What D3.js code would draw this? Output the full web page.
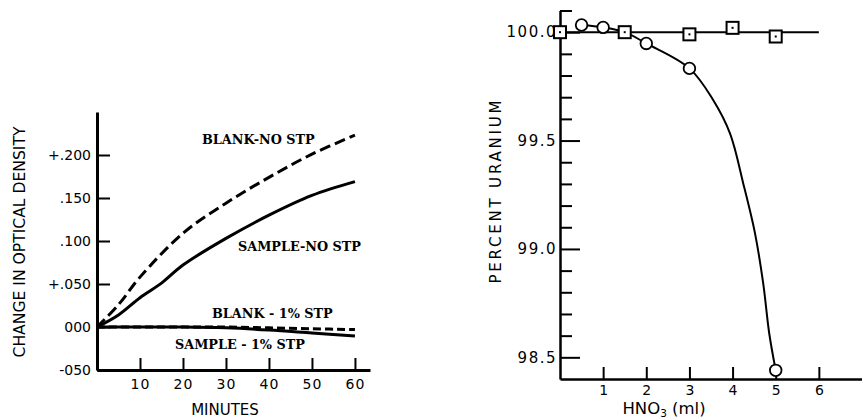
<!DOCTYPE html>
<html>
<head>
<meta charset="utf-8">
<script src="https://cdn.jsdelivr.net/npm/d3@7"></script>
<style>
  body { margin: 0; background: #fff; }
  svg { display: block; }
  .sans { font-family: "DejaVu Sans", "Liberation Sans", sans-serif; }
  .serif { font-family: "DejaVu Serif", serif; font-weight: bold; }
</style>
</head>
<body>
<svg id="chart" width="862" height="419"></svg>
<script>
// ---- 左图：光密度变化 ----
const minuteTicks = [10, 20, 30, 40, 50, 60]
const densityTicks = [-0.05, 0, 0.05, 0.10, 0.15, 0.20]
const densityLabels = ["-050", "000", "+.050", ".100", ".150", "+.200"]

const blankNoStp = [[0, 0], [5, 0.026], [10, 0.058], [20, 0.109], [30, 0.144], [40, 0.174], [50, 0.201], [60, 0.223]]
const sampleNoStp = [[0, 0], [5, 0.014], [10, 0.034], [15, 0.051], [20, 0.072], [30, 0.103], [40, 0.130], [50, 0.153], [60, 0.169]]
const blank1Stp = [[0, 0], [10, 0], [20, 0], [30, 0], [40, -0.001], [50, -0.002], [60, -0.003]]
const sample1Stp = [[0, 0], [10, 0], [20, 0], [30, -0.001], [40, -0.0035], [50, -0.007], [60, -0.0105]]

// ---- 右图：铀百分比 ----
const hno3Ticks = [1, 2, 3, 4, 5, 6]
const uraniumMajor = [98.5, 99.0, 99.5, 100.0]
const uraniumMinor = [98.6, 98.7, 98.8, 98.9, 99.1, 99.2, 99.3, 99.4, 99.6, 99.7, 99.8, 99.9, 100.1]

const squarePts = [[0, 100.0], [1.5, 100.0], [3, 99.99], [4, 100.02], [5, 99.98]]
const squareFit = [[0, 100.0], [6, 100.0]]
const circlePts = [[0.5, 100.033], [1, 100.022], [2, 99.948], [3, 99.833], [5, 98.44]]
const circleFit = [[0.5, 100.033], [1, 100.022], [1.5, 100.0], [2, 99.948], [3, 99.833], [3.55, 99.687],
                   [3.94, 99.533], [4.25, 99.30], [4.52, 99.072], [4.71, 98.841], [4.85, 98.61], [5, 98.44]]

var svg = d3.select("#chart")

// ===== 左图 =====
var xL = d3.scaleLinear().domain([0, 63.5]).range([97, 370])
var yL = d3.scaleLinear().domain([-0.05, 0.25]).range([370, 112])
var gL = svg.append("g")

gL.append("g")
  .attr("transform", "translate(0," + yL(-0.05) + ")")
  .call(d3.axisBottom(xL).tickValues(minuteTicks).tickSize(-12).tickSizeOuter(0).tickPadding(9).tickFormat(d3.format("d")))
  .call(g => g.select(".domain").attr("stroke-width", 3))
  .call(g => g.selectAll(".tick line").attr("stroke-width", 2))
  .call(g => g.selectAll("text").attr("class", "sans").attr("font-size", 14).attr("letter-spacing", 1).attr("fill", "#000"))

gL.append("g")
  .attr("transform", "translate(" + xL(0) + ",0)")
  .call(d3.axisLeft(yL).tickValues(densityTicks).tickSize(-13).tickSizeOuter(0).tickPadding(6)
          .tickFormat((d, i) => densityLabels[i]))
  .call(g => g.select(".domain").attr("stroke-width", 3))
  .call(g => g.selectAll(".tick line").attr("stroke-width", 2))
  .call(g => g.selectAll("text").attr("class", "sans").attr("font-size", 14).attr("fill", "#000"))

var lineL = d3.line().x(d => xL(d[0])).y(d => yL(d[1])).curve(d3.curveCatmullRom.alpha(0.5))

var seriesL = [
  {data: blankNoStp, dash: "11,5"},
  {data: sampleNoStp, dash: null},
  {data: blank1Stp, dash: "8,4"},
  {data: sample1Stp, dash: null}
]
seriesL.forEach(s => {
  gL.append("path")
    .attr("d", lineL(s.data))
    .attr("fill", "none")
    .attr("stroke", "#000")
    .attr("stroke-width", 3)
    .attr("stroke-dasharray", s.dash)
})

// 曲线标注
var notes = [
  {t: "BLANK-NO STP", x: 202, y: 139},
  {t: "SAMPLE-NO STP", x: 238, y: 246},
  {t: "BLANK - 1% STP", x: 212, y: 313},
  {t: "SAMPLE - 1% STP", x: 175, y: 344}
]
notes.forEach(n => {
  gL.append("text")
    .attr("class", "serif")
    .attr("x", n.x)
    .attr("y", n.y)
    .attr("dy", "0.36em")
    .attr("font-size", 12.8)
    .text(n.t)
})

gL.append("text")
  .attr("class", "sans")
  .attr("transform", "translate(25,242) rotate(-90)")
  .attr("text-anchor", "middle")
  .attr("font-size", 15)
  .attr("textLength", 231)
  .attr("lengthAdjust", "spacingAndGlyphs")
  .text("CHANGE IN OPTICAL DENSITY")

gL.append("text")
  .attr("class", "sans")
  .attr("x", 225)
  .attr("y", 410)
  .attr("dy", "0.36em")
  .attr("text-anchor", "middle")
  .attr("font-size", 15)
  .text("MINUTES")

// ===== 右图 =====
var xR = d3.scaleLinear().domain([0, 7]).range([560, 862])
var yR = d3.scaleLinear().domain([98.4, 100.1]).range([379, 10.5])
var gR = svg.append("g")

gR.append("g")
  .attr("transform", "translate(0," + yR(98.4) + ")")
  .call(d3.axisBottom(xR).tickValues(hno3Ticks).tickSize(-12).tickSizeOuter(0).tickPadding(6).tickFormat(d3.format("d")))
  .call(g => g.select(".domain").attr("stroke-width", 2.5))
  .call(g => g.selectAll(".tick line").attr("stroke-width", 2))
  .call(g => g.selectAll("text").attr("class", "sans").attr("font-size", 14).attr("fill", "#000"))

gR.append("g")
  .attr("transform", "translate(" + xR(0) + ",0)")
  .call(d3.axisLeft(yR).tickValues(uraniumMinor).tickSize(-12).tickSizeOuter(0).tickFormat(""))
  .call(g => g.select(".domain").attr("stroke-width", 2.5))
  .call(g => g.selectAll(".tick line").attr("stroke-width", 2))

gR.append("g")
  .attr("transform", "translate(" + xR(0) + ",0)")
  .call(d3.axisLeft(yR).tickValues(uraniumMajor).tickSize(-20).tickSizeOuter(0).tickPadding(3).tickFormat(d3.format(".1f")))
  .call(g => g.select(".domain").remove())
  .call(g => g.selectAll(".tick line").attr("stroke-width", 2))
  .call(g => g.selectAll("text").attr("class", "sans").attr("font-size", 15).attr("letter-spacing", 1.5).attr("fill", "#000"))

var lineR = d3.line().x(d => xR(d[0])).y(d => yR(d[1]))

gR.append("path")
  .attr("d", lineR(squareFit))
  .attr("fill", "none")
  .attr("stroke", "#000")
  .attr("stroke-width", 2)

gR.append("path")
  .attr("d", lineR.curve(d3.curveCatmullRom.alpha(0.5))(circleFit))
  .attr("fill", "none")
  .attr("stroke", "#000")
  .attr("stroke-width", 2)

gR.selectAll(".circ")
  .data(circlePts)
  .join("circle")
  .attr("class", "circ")
  .attr("cx", d => xR(d[0]))
  .attr("cy", d => yR(d[1]))
  .attr("r", 5.8)
  .attr("fill", "#fff")
  .attr("stroke", "#000")
  .attr("stroke-width", 1.8)

var sq = gR.selectAll(".sq")
  .data(squarePts)
  .join("g")
  .attr("class", "sq")
  .attr("transform", d => "translate(" + xR(d[0]) + "," + yR(d[1]) + ")")
sq.append("rect")
  .attr("x", -6).attr("y", -6)
  .attr("width", 12).attr("height", 12)
  .attr("fill", "#fff")
  .attr("stroke", "#000")
  .attr("stroke-width", 2)
sq.append("rect")
  .attr("x", -1).attr("y", -1)
  .attr("width", 2).attr("height", 2)
  .attr("fill", "#000")

gR.append("text")
  .attr("class", "sans")
  .attr("transform", "translate(501,192) rotate(-90)")
  .attr("text-anchor", "middle")
  .attr("font-size", 15)
  .attr("textLength", 183)
  .attr("lengthAdjust", "spacing")
  .text("PERCENT URANIUM")

var xt = gR.append("text")
  .attr("class", "sans")
  .attr("x", 664)
  .attr("y", 414)
  .attr("text-anchor", "middle")
  .attr("font-size", 16.5)
xt.append("tspan").text("HNO")
xt.append("tspan").attr("font-size", 10.5).attr("dy", 3).text("3")
xt.append("tspan").attr("dy", -3).text(" (ml)")
</script>
</body>
</html>
